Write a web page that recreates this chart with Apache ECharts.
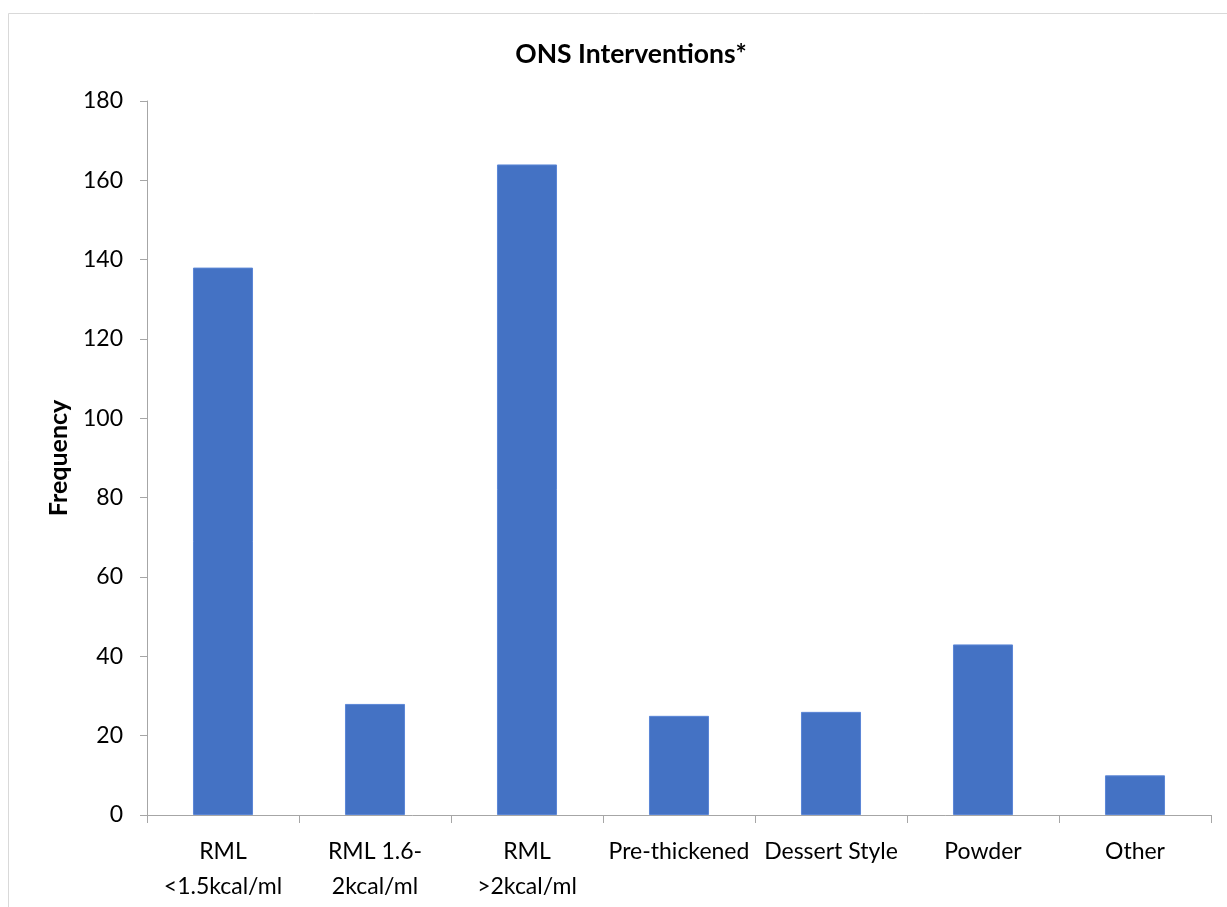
<!DOCTYPE html>
<html>
<head>
<meta charset="utf-8">
<script src="https://cdn.jsdelivr.net/npm/echarts@6/dist/echarts.min.js"></script>
<style>
  html, body { margin: 0; padding: 0; background: #fff; }
  #chart { width: 1227px; height: 907px; }
</style>
</head>
<body>
<div id="chart"></div>
<script>
// ONS intervention types and how often each was used
const categories = [
  'RML\n<1.5kcal/ml',
  'RML 1.6-\n2kcal/ml',
  'RML\n>2kcal/ml',
  'Pre-thickened',
  'Dessert Style',
  'Powder',
  'Other'
];
const frequency = [138, 28, 164, 25, 26, 43, 10];
const yTicks = { min: 0, max: 180, interval: 20 };

const FONT = 'Lato, "Liberation Sans", sans-serif';
const AXIS_GREY = '#A6A6A6';

const chart = echarts.init(document.getElementById('chart'), null, { renderer: 'canvas' });

chart.setOption({
  animation: false,
  backgroundColor: '#ffffff',
  textStyle: { fontFamily: FONT },
  graphic: [{
    type: 'rect',
    silent: true,
    shape: { x: 8.5, y: 13.5, width: 1240, height: 920 },
    style: { fill: 'none', stroke: '#D9D9D9', lineWidth: 1 }
  }],
  title: {
    text: 'ONS Interventions*',
    left: 626,
    top: 36,
    textAlign: 'center',
    textStyle: { fontFamily: FONT, fontWeight: 'bold', fontSize: 26.5, color: '#000' }
  },
  grid: { left: 147, right: 16, top: 101, bottom: 92, containLabel: false },
  xAxis: {
    type: 'category',
    data: categories,
    axisLine: { lineStyle: { color: AXIS_GREY, width: 1 } },
    axisTick: { show: true, length: 8, alignWithLabel: false, lineStyle: { color: AXIS_GREY } },
    axisLabel: {
      interval: 0,
      margin: 19,
      color: '#000',
      fontFamily: FONT,
      fontSize: 23,
      lineHeight: 35
    },
    splitLine: { show: false }
  },
  yAxis: {
    type: 'value',
    min: yTicks.min,
    max: yTicks.max,
    interval: yTicks.interval,
    name: 'Frequency',
    nameLocation: 'middle',
    nameRotate: 90,
    nameGap: 76,
    nameTextStyle: { fontFamily: FONT, fontWeight: 'bold', fontSize: 25, color: '#000' },
    axisLine: { show: true, lineStyle: { color: AXIS_GREY, width: 1 } },
    axisTick: { show: true, length: 7, lineStyle: { color: AXIS_GREY } },
    axisLabel: { color: '#000', fontFamily: FONT, fontSize: 23, margin: 24 },
    splitLine: { show: false }
  },
  series: [{
    type: 'bar',
    data: frequency,
    barWidth: '39.5%',
    itemStyle: { color: '#4472C4', borderColor: '#5B86D6', borderWidth: 1 }
  }]
});
</script>
</body>
</html>
